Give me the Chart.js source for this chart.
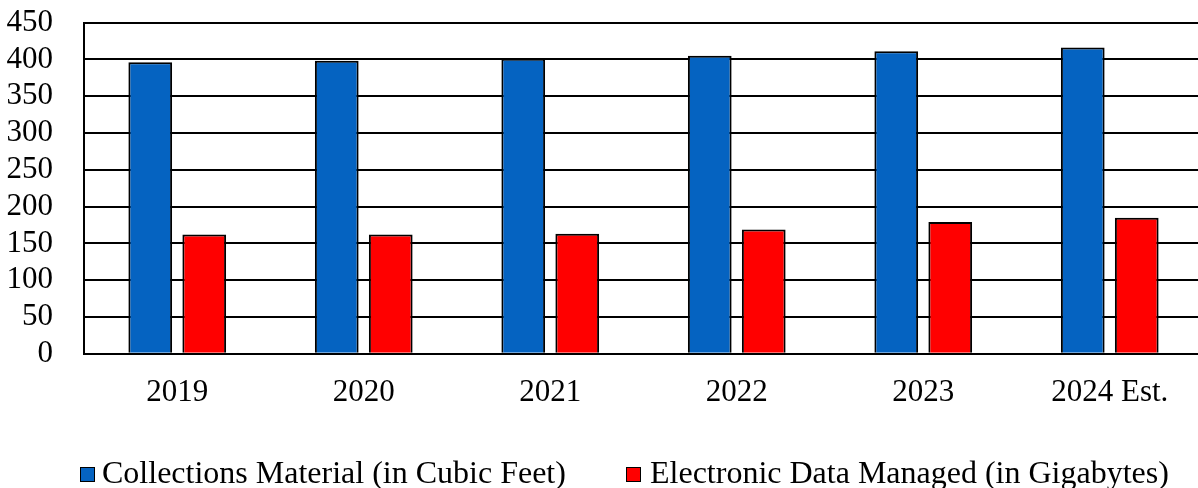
<!DOCTYPE html>
<html>
<head>
<meta charset="utf-8">
<script src="https://cdn.jsdelivr.net/npm/chart.js@4"></script>
<style>
  html, body { margin: 0; padding: 0; background: #ffffff; }
  #wrap { position: relative; width: 1198px; height: 488px; overflow: hidden; }
  #c { position: absolute; left: 0; top: -27px; }
  .lg { position: absolute; top: 457px; height: 31px; line-height: 31px; white-space: nowrap;
        font-family: 'Liberation Serif', 'Times New Roman', serif; font-size: 32px; color: #000; }
  .bx { position: absolute; width: 13px; height: 13px; border: 1.5px solid #000; }
</style>
</head>
<body>
<div id="wrap">
  <canvas id="c" width="1203" height="523"></canvas>
  <div id="legend"></div>
</div>
<script>
const categories = ["2019", "2020", "2021", "2022", "2023", "2024 Est."];
const collectionsMaterial = [396, 398, 401, 405, 411, 416];
const electronicData = [162, 162, 163, 169, 179, 185];
const yTicks = [0, 50, 100, 150, 200, 250, 300, 350, 400, 450];
const seriesNames = ["Collections Material (in Cubic Feet)", "Electronic Data Managed (in Gigabytes)"];
const seriesColors = ["#0563C1", "#FF0000"];

const FONT = "'Liberation Serif', 'Times New Roman', serif";

const chart = new Chart(document.getElementById('c'), {
  type: 'bar',
  data: {
    labels: categories,
    datasets: [
      { label: seriesNames[0], data: collectionsMaterial, backgroundColor: seriesColors[0], borderColor: '#000000', borderWidth: 2,
        barPercentage: 0.81, categoryPercentage: 0.579 },
      { label: seriesNames[1], data: electronicData, backgroundColor: seriesColors[1], borderColor: '#000000', borderWidth: 2,
        barPercentage: 0.81, categoryPercentage: 0.579 }
    ]
  },
  options: {
    responsive: false,
    animation: false,
    layout: { padding: { top: -20, left: 0, right: 0, bottom: 65 } },
    plugins: {
      tooltip: { enabled: false },
      legend: { display: false }
    },
    scales: {
      x: {
        grid: { display: false, drawTicks: false },
        border: { display: true, color: '#000000', width: 2 },
        ticks: { font: { family: FONT, size: 31 }, color: '#000000', padding: 20, maxRotation: 0, autoSkip: false }
      },
      y: {
        min: 0, max: 450,
        afterBuildTicks: (s) => { s.ticks = yTicks.map(v => ({ value: v })); },
        afterFit: (s) => { s.width = 84; },
        grid: { color: '#000000', lineWidth: 2, drawTicks: false },
        border: { display: true, color: '#000000', width: 2 },
        ticks: { font: { family: FONT, size: 31 }, color: '#000000', padding: 31, autoSkip: false }
      }
    }
  }
});

// HTML legend (real text)
const legendPos = [{ box: 80, text: 102 }, { box: 626, text: 650 }];
const lg = document.getElementById('legend');
seriesNames.forEach((name, i) => {
  const b = document.createElement('div');
  b.className = 'bx';
  b.style.left = legendPos[i].box + 'px';
  b.style.top = '467px';
  b.style.background = seriesColors[i];
  lg.appendChild(b);
  const t = document.createElement('div');
  t.className = 'lg';
  t.style.left = legendPos[i].text + 'px';
  t.textContent = name;
  lg.appendChild(t);
});
</script>
</body>
</html>
